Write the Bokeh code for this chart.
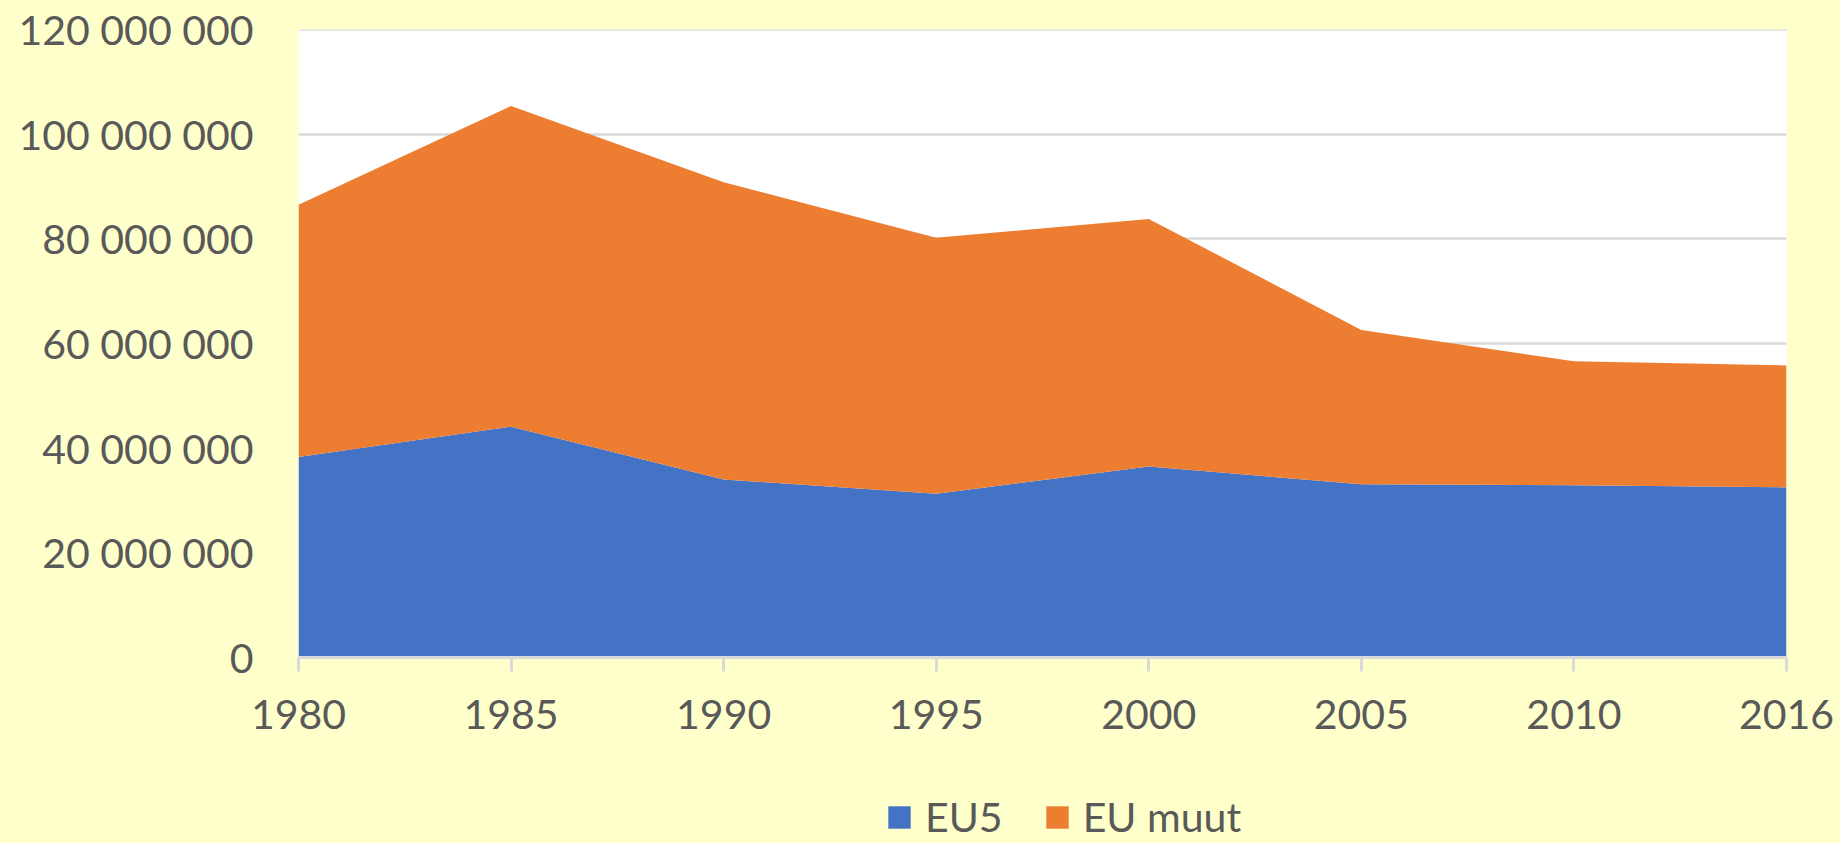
from bokeh.plotting import figure
from bokeh.models import ColumnDataSource, FixedTicker, Legend, Span
from bokeh.layouts import column
from bokeh.embed import file_html
from bokeh.resources import INLINE

years = ["1980", "1985", "1990", "1995", "2000", "2005", "2010", "2016"]
eu5 = [38.3e6, 44.1e6, 34.0e6, 31.3e6, 36.5e6, 33.1e6, 32.9e6, 32.5e6]
eu_muut = [48.2e6, 61.3e6, 56.8e6, 48.9e6, 47.3e6, 29.5e6, 23.7e6, 23.3e6]
y_ticks = [0, 20e6, 40e6, 60e6, 80e6, 100e6, 120e6]
y_labels = ["0", "20 000 000", "40 000 000", "60 000 000", "80 000 000", "100 000 000", "120 000 000"]
series_names = ["EU5", "EU muut"]
colors = ["#4472C4", "#ED7D31"]

x = list(range(len(years)))
source = ColumnDataSource(dict(x=x, eu5=eu5, eu_muut=eu_muut))

BG = "#FFFFCC"
TXT = "#595959"
FONT = "Lato"
FS = "41px"
W = 1840

p = figure(width=W, height=780, output_backend="svg", toolbar_location=None,
           x_range=(0, len(years) - 1), y_range=(0, 120e6),
           min_border_left=298, min_border_right=54, min_border_top=29, min_border_bottom=123)
p.background_fill_color = "white"
p.border_fill_color = BG
p.outline_line_color = None

renderers = p.varea_stack(["eu5", "eu_muut"], x="x", color=colors, source=source)

p.xgrid.grid_line_color = None
p.ygrid.grid_line_color = "#D9D9D9"
p.ygrid.grid_line_width = 2.5
p.ygrid.ticker = FixedTicker(ticks=y_ticks)
p.add_layout(Span(location=y_ticks[-1], dimension="width", line_color="#D9D9D9", line_width=2.5))

xa = p.xaxis[0]
xa.ticker = FixedTicker(ticks=x)
xa.major_label_overrides = {i: y for i, y in enumerate(years)}
xa.axis_line_color = "#D9D9D9"
xa.axis_line_width = 3
xa.major_tick_line_color = "#D9D9D9"
xa.major_tick_line_width = 3
xa.major_tick_out = 14
xa.major_tick_in = 0
xa.minor_tick_line_color = None
xa.major_label_standoff = 28
xa.major_label_text_font = FONT
xa.major_label_text_font_size = FS
xa.major_label_text_color = TXT

ya = p.yaxis[0]
ya.ticker = FixedTicker(ticks=y_ticks)
ya.major_label_overrides = {t: l for t, l in zip(y_ticks, y_labels)}
ya.axis_line_color = None
ya.major_tick_line_color = None
ya.minor_tick_line_color = None
ya.major_tick_out = 0
ya.major_tick_in = 0
ya.major_label_standoff = 45
ya.major_label_text_font = FONT
ya.major_label_text_font_size = FS
ya.major_label_text_color = TXT

# legend strip below the chart (transparent, page background shows through)
lg = figure(width=W, height=63, output_backend="svg", toolbar_location=None,
            x_range=(0, 1), y_range=(1e12, 2e12),
            min_border_left=298, min_border_right=54, min_border_top=0, min_border_bottom=0)
lg.axis.visible = False
lg.grid.visible = False
lg.outline_line_color = None
lg.background_fill_alpha = 0
lg.border_fill_alpha = 0
lg_renderers = lg.varea_stack(["eu5", "eu_muut"], x="x", color=colors, source=source)

legend = Legend(items=[(n, [r]) for n, r in zip(series_names, lg_renderers)],
                location=(587, 2), orientation="horizontal",
                background_fill_alpha=0, border_line_color=None,
                padding=0, margin=0, spacing=40, label_standoff=12,
                glyph_width=28, glyph_height=28,
                label_text_font=FONT, label_text_font_size=FS,
                label_text_color=TXT, label_height=28)
lg.add_layout(legend, "center")

layout = column(p, lg, spacing=0)
html = file_html(layout, INLINE)
html = html.replace("</head>", "<style>html, body { background: %s !important; }</style></head>" % BG, 1)
open("out.html", "w").write(html)
